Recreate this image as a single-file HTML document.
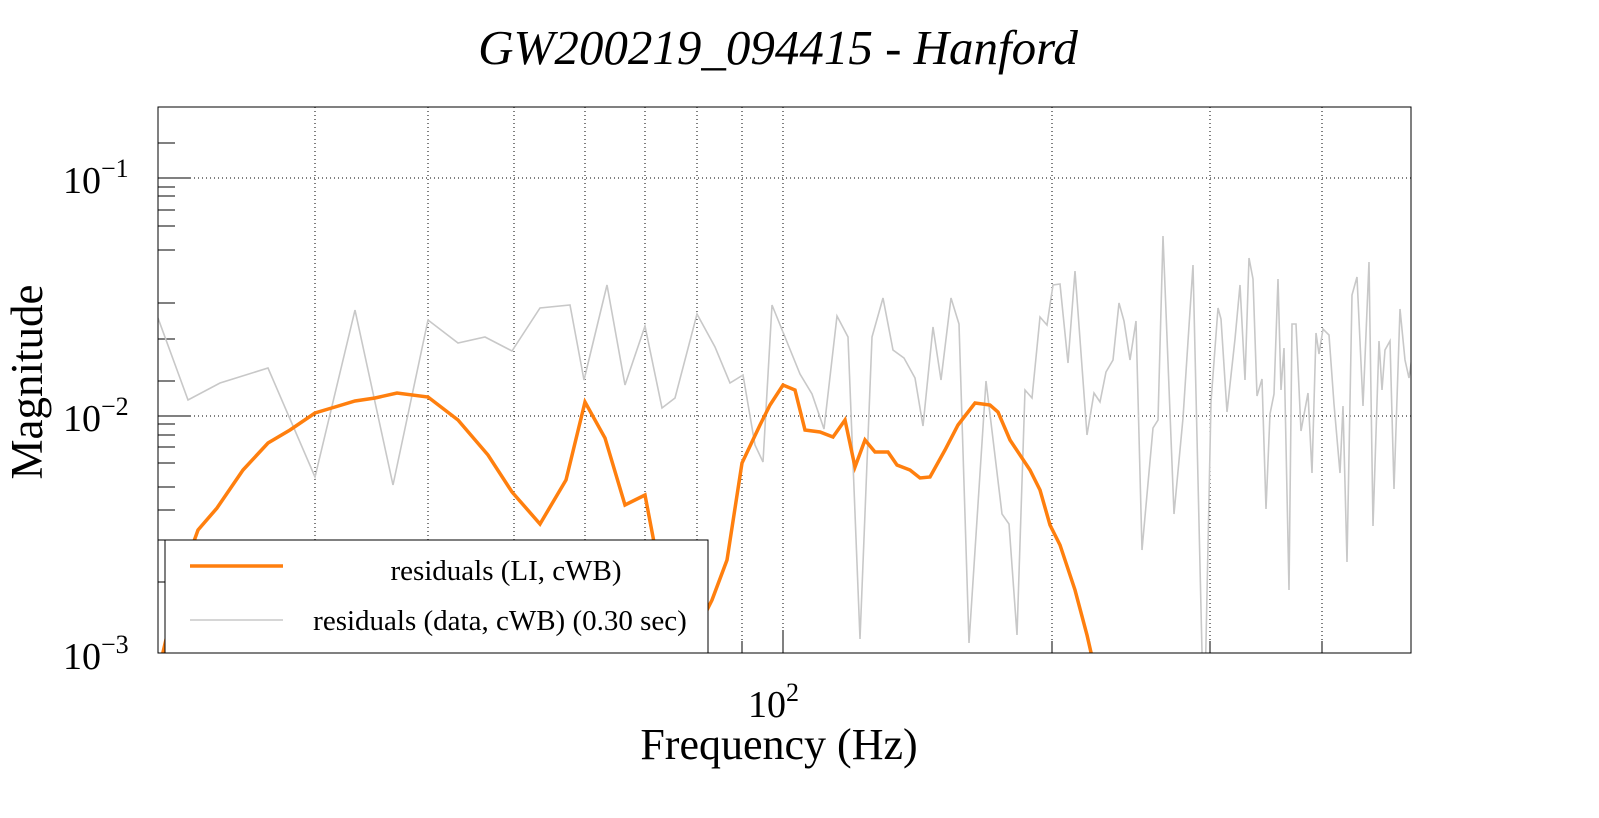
<!DOCTYPE html>
<html><head><meta charset="utf-8"><style>body{margin:0;background:#fff}</style></head><body>
<svg width="1599" height="813" xmlns="http://www.w3.org/2000/svg" font-family="Liberation Serif, serif">
<rect width="1599" height="813" fill="#fff"/>
<text x="778" y="64" text-anchor="middle" font-size="49" font-style="italic">GW200219_094415 - Hanford</text>
<g stroke="#000" stroke-width="1" stroke-dasharray="1,3">
<line x1="315" y1="107" x2="315" y2="653"/><line x1="428" y1="107" x2="428" y2="653"/><line x1="514" y1="107" x2="514" y2="653"/><line x1="585" y1="107" x2="585" y2="653"/><line x1="645" y1="107" x2="645" y2="653"/><line x1="697" y1="107" x2="697" y2="653"/><line x1="742" y1="107" x2="742" y2="653"/><line x1="783" y1="107" x2="783" y2="653"/><line x1="1052" y1="107" x2="1052" y2="653"/><line x1="1210" y1="107" x2="1210" y2="653"/><line x1="1322" y1="107" x2="1322" y2="653"/>
<line x1="158" y1="178" x2="1411" y2="178"/><line x1="158" y1="416" x2="1411" y2="416"/>
</g>
<g stroke="#000" stroke-width="1">
<line x1="158" y1="178" x2="190" y2="178"/><line x1="158" y1="416" x2="190" y2="416"/>
<line x1="158" y1="250" x2="175" y2="250"/><line x1="158" y1="226" x2="175" y2="226"/><line x1="158" y1="210" x2="175" y2="210"/><line x1="158" y1="196" x2="175" y2="196"/><line x1="158" y1="187" x2="175" y2="187"/><line x1="158" y1="143" x2="175" y2="143"/><line x1="158" y1="107" x2="175" y2="107"/>
<line x1="158" y1="487" x2="175" y2="487"/><line x1="158" y1="463" x2="175" y2="463"/><line x1="158" y1="447" x2="175" y2="447"/><line x1="158" y1="435" x2="175" y2="435"/><line x1="158" y1="424" x2="175" y2="424"/><line x1="158" y1="381" x2="175" y2="381"/><line x1="158" y1="339" x2="175" y2="339"/><line x1="158" y1="303" x2="175" y2="303"/>
<line x1="158" y1="582" x2="175" y2="582"/><line x1="158" y1="540" x2="175" y2="540"/><line x1="158" y1="510" x2="175" y2="510"/>
<line x1="315" y1="653" x2="315" y2="641"/><line x1="428" y1="653" x2="428" y2="641"/><line x1="514" y1="653" x2="514" y2="641"/><line x1="585" y1="653" x2="585" y2="641"/><line x1="645" y1="653" x2="645" y2="641"/><line x1="697" y1="653" x2="697" y2="641"/><line x1="742" y1="653" x2="742" y2="641"/><line x1="783" y1="653" x2="783" y2="630"/><line x1="1052" y1="653" x2="1052" y2="641"/><line x1="1210" y1="653" x2="1210" y2="641"/><line x1="1322" y1="653" x2="1322" y2="641"/>
</g>
<svg x="158" y="107" width="1253" height="546" viewBox="158 107 1253 546" overflow="hidden">
<polyline fill="none" stroke="#c8c8c8" stroke-width="1.6" points="158,318 188,400 220,383 268,368 315,477 355,310 393,485 428,320 458,343 485,337 512,351 540,308 570,305 584,380 607,285 625,385 645,326 662,408 675,398 697,314 715,347 730,383 743,375 755,445 763,462 772,305 800,374 812,394 824,429 837,316 848,337 860,639 872,337 883,298 893,350 904,358 915,378 923,426 933,327 941,380 951,298 959,324 969,643 986,381 1002,514 1009,524 1017,635 1025,390 1032,398 1040,317 1047,325 1053,285 1060,284 1068,363 1075,271 1087,435 1094,393 1100,402 1106,372 1113,360 1119,303 1124,321 1130,360 1136,321 1142,550 1153,428 1158,420 1163,236 1174,514 1183,418 1193,265 1204,738 1211,402 1218,308 1221,319 1227,412 1235,339 1240,285 1245,380 1249,258 1253,279 1257,396 1262,379 1266,509 1270,414 1274,394 1278,279 1281,390 1284,348 1289,590 1292,324 1296,324 1301,431 1308,393 1312,473 1316,333 1319,354 1323,329 1329,335 1334,404 1340,473 1343,406 1347,562 1352,295 1357,277 1363,406 1369,262 1373,526 1379,341 1382,390 1385,350 1390,341 1394,489 1400,309 1405,360 1409,378 1413,350"/>
<polyline fill="none" stroke="#ff7f0e" stroke-width="3.5" points="160,665 180,580 198,530 217,508 243,470 268,443 290,430 315,413 335,407 355,401 375,398 397,393 428,397 458,420 488,455 512,492 540,524 566,480 585,402 605,438 625,505 645,495 665,600 680,665 692,640 712,600 727,560 742,463 760,425 770,405 783,385 795,390 805,430 820,432 833,437 845,420 855,467 865,440 875,452 888,452 897,465 910,470 920,478 930,477 945,450 958,425 975,403 990,405 998,412 1010,440 1030,470 1040,490 1050,525 1060,545 1075,590 1087,635 1095,670"/>
</svg>
<rect x="158" y="107" width="1253" height="546" fill="none" stroke="#000" stroke-width="1"/>
<rect x="165" y="540" width="543" height="113" fill="#fff" stroke="#000" stroke-width="1"/>
<line x1="190" y1="566" x2="283" y2="566" stroke="#ff7f0e" stroke-width="3.5"/>
<line x1="190" y1="620" x2="283" y2="620" stroke="#c8c8c8" stroke-width="1.6"/>
<text x="506" y="580" text-anchor="middle" font-size="29">residuals (LI, cWB)</text>
<text x="500" y="630" text-anchor="middle" font-size="29">residuals (data, cWB) (0.30 sec)</text>
<g font-size="38">
<text x="63" y="193">10<tspan font-size="26" dy="-16">−1</tspan></text>
<text x="63" y="431">10<tspan font-size="26" dy="-16">−2</tspan></text>
<text x="63" y="669">10<tspan font-size="26" dy="-16">−3</tspan></text>
<text x="748" y="717">10<tspan font-size="26" dy="-16">2</tspan></text>
</g>
<text x="779" y="759" text-anchor="middle" font-size="44">Frequency (Hz)</text>
<text transform="translate(42,382) rotate(-90)" text-anchor="middle" font-size="45">Magnitude</text>
</svg>
</body></html>
